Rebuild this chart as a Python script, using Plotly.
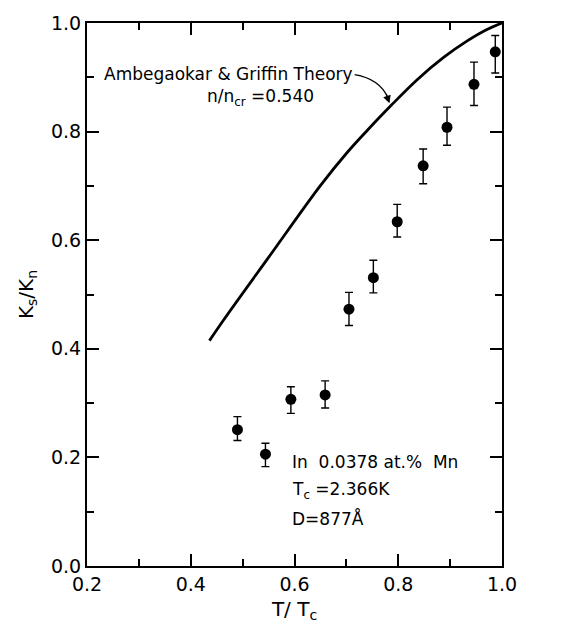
import plotly.graph_objects as go

# Experimental data (In 0.0378 at.% Mn)
t_exp = [0.490, 0.544, 0.593, 0.659, 0.705, 0.752, 0.798, 0.848, 0.894, 0.946, 0.987]
k_exp = [0.251, 0.206, 0.307, 0.315, 0.473, 0.531, 0.634, 0.737, 0.808, 0.887, 0.947]
err_up = [0.024, 0.020, 0.023, 0.026, 0.031, 0.032, 0.032, 0.031, 0.037, 0.041, 0.030]
err_dn = [0.020, 0.023, 0.026, 0.024, 0.030, 0.028, 0.028, 0.033, 0.033, 0.039, 0.039]

# Ambegaokar & Griffin theory curve
t_theory = [0.436, 0.464, 0.549, 0.651, 0.702, 0.741, 0.786, 0.837, 0.888, 0.933, 0.971, 1.0]
k_theory = [0.415, 0.454, 0.567, 0.702, 0.762, 0.803, 0.848, 0.896, 0.937, 0.967, 0.988, 1.0]

x_ticks = [0.2, 0.4, 0.6, 0.8, 1.0]
y_ticks = [0.0, 0.2, 0.4, 0.6, 0.8, 1.0]

FONT = "DejaVu Sans"

fig = go.Figure()
fig.add_trace(go.Scatter(x=t_theory, y=k_theory, mode="lines",
                         line=dict(color="black", width=2.8, shape="spline", smoothing=1.0),
                         hoverinfo="skip", showlegend=False))
fig.add_trace(go.Scatter(x=t_exp, y=k_exp, mode="markers",
                         marker=dict(color="black", size=11),
                         error_y=dict(type="data", symmetric=False, array=err_up, arrayminus=err_dn,
                                      color="black", thickness=1.4, width=4),
                         showlegend=False))

axis_common = dict(showline=True, linecolor="black", linewidth=2, mirror="ticks",
                   ticks="inside", ticklen=12, tickwidth=1.5, tickcolor="black",
                   showgrid=False, zeroline=False,
                   tickfont=dict(family=FONT, size=19, color="black"),
                   minor=dict(ticks="inside", ticklen=7, tickwidth=1.5, tickcolor="black", dtick=0.1))

fig.update_xaxes(range=[0.2, 1.0], tickvals=x_ticks, ticktext=[f"{v:.1f}" for v in x_ticks],
                 title=dict(text="T/ T<sub>c</sub>", font=dict(family=FONT, size=20, color="black"), standoff=8),
                 **axis_common)
fig.update_yaxes(range=[0.0, 1.0], tickvals=y_ticks, ticktext=[f"{v:.1f}" for v in y_ticks],
                 title=dict(text="K<sub>s</sub>/K<sub>n</sub>", font=dict(family=FONT, size=20, color="black"), standoff=12),
                 **axis_common)

# curved arrow from label to the curve
fig.add_shape(type="path", path="M 0.716,0.905 Q 0.765,0.897 0.780,0.862",
              xref="x", yref="y", line=dict(color="black", width=1.3))
fig.add_annotation(x=0.783, y=0.852, ax=0.776, ay=0.872, xref="x", yref="y", axref="x", ayref="y",
                   text="", showarrow=True, arrowhead=2, arrowsize=1.2, arrowwidth=1.3, arrowcolor="black")

txt = dict(family=FONT, size=17, color="black")
fig.add_annotation(x=0.228, y=0.907, xref="x", yref="y", text="Ambegaokar &amp; Griffin Theory",
                   showarrow=False, xanchor="left", yanchor="middle", font=txt)
fig.add_annotation(x=0.428, y=0.862, xref="x", yref="y", text="n/n<sub>cr</sub> =0.540",
                   showarrow=False, xanchor="left", yanchor="middle", font=txt)
fig.add_annotation(x=0.592, y=0.191, xref="x", yref="y", text="In  0.0378 at.%  Mn",
                   showarrow=False, xanchor="left", yanchor="middle", font=txt)
fig.add_annotation(x=0.592, y=0.139, xref="x", yref="y", text="T<sub>c</sub> =2.366K",
                   showarrow=False, xanchor="left", yanchor="middle", font=txt)
fig.add_annotation(x=0.592, y=0.087, xref="x", yref="y", text="D=877Å",
                   showarrow=False, xanchor="left", yanchor="middle", font=txt)

fig.update_layout(width=564, height=629, plot_bgcolor="white", paper_bgcolor="white",
                  margin=dict(l=87, r=62, t=15, b=60), showlegend=False)

fig.write_html("out.html", config={"displayModeBar": False},
               post_script="document.body.style.margin='0';")
